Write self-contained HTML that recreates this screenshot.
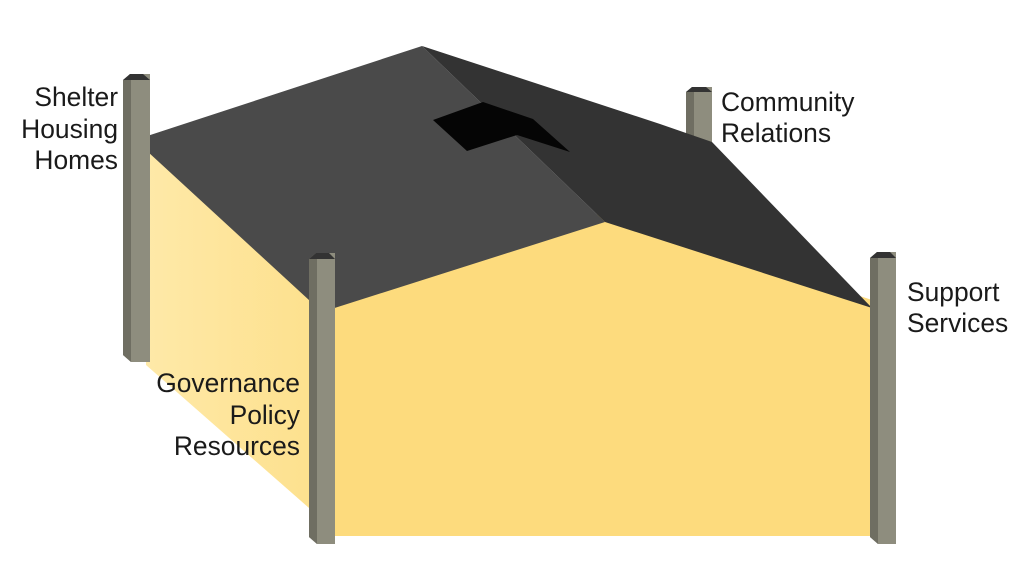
<!DOCTYPE html>
<html><head><meta charset="utf-8"><style>
html,body{margin:0;padding:0;background:#fff;width:1024px;height:580px;overflow:hidden}
text{font-family:"Liberation Sans",Arial,sans-serif;font-size:26.4px;fill:#1a1a1a}
</style></head><body>
<svg width="1024" height="580" viewBox="0 0 1024 580" xmlns="http://www.w3.org/2000/svg">
<defs>
<linearGradient id="lw" x1="0" y1="0" x2="1" y2="0">
<stop offset="0" stop-color="#fee9a8"/><stop offset="1" stop-color="#fde08c"/>
</linearGradient>
</defs>
<polygon points="686,92 692,87 712,87 712,150 686,150" fill="#8e8d7e"/>
<polygon points="686,92 694,92 694,150 686,150" fill="#6f6e62"/>
<polygon points="686,92 692,87 706,87 712,92" fill="#333"/>
<polygon points="146,140 325,300 325,522 146,365" fill="url(#lw)"/>
<polygon points="325,300 605,212 872,300 872,536 325,536" fill="#fddb7d"/>
<polygon points="135,140 422,46 605,222 322,312" fill="#4a4a4a"/>
<polygon points="422,46 660,124 712,142 872,308 605,222" fill="#333"/>
<polygon points="433,120 483,102 533,119 570,152 517,135 467,151" fill="#050505"/>
<polygon points="123,80 130,74 150,74 150,362 131,362 123,355" fill="#8e8d7e"/>
<polygon points="123,80 131,80 131,362 123,355" fill="#6f6e62"/>
<polygon points="123,80 130,74 143,74 150,80" fill="#333"/>
<polygon points="309,259 316,253 335,253 335,544 317,544 309,537" fill="#8e8d7e"/>
<polygon points="309,259 317,259 317,544 309,537" fill="#6f6e62"/>
<polygon points="309,259 316,253 329,253 335,259" fill="#333"/>
<polygon points="870,258 877,252 896,252 896,544 878,544 870,537" fill="#8e8d7e"/>
<polygon points="870,258 878,258 878,544 870,537" fill="#6f6e62"/>
<polygon points="870,258 877,252 890,252 896,258" fill="#333"/>
<text x="118" y="106" text-anchor="end">Shelter</text>
<text x="118" y="138" text-anchor="end">Housing</text>
<text x="118" y="169" text-anchor="end">Homes</text>
<text x="721" y="111">Community</text>
<text x="721" y="142">Relations</text>
<text x="907" y="301">Support</text>
<text x="907" y="332">Services</text>
<text x="300" y="392" text-anchor="end">Governance</text>
<text x="300" y="424" text-anchor="end">Policy</text>
<text x="300" y="455" text-anchor="end">Resources</text>
</svg>
</body></html>
